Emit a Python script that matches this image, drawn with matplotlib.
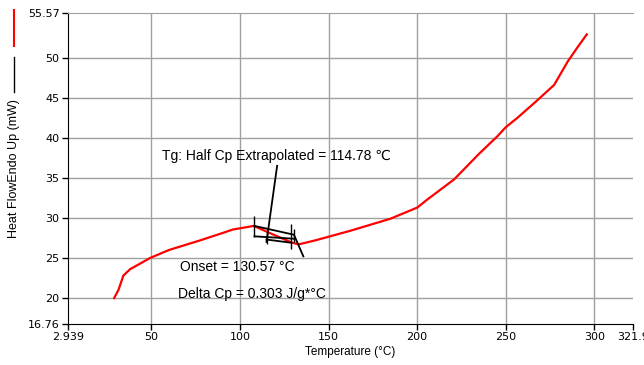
import matplotlib
matplotlib.use("Agg")
import matplotlib.pyplot as plt
from matplotlib.lines import Line2D

plt.rcParams['font.family'] = ['Liberation Sans', 'DejaVu Sans']

# heat flow curve
temp = [29, 31.4, 34.2, 38, 43.7, 49.3, 60, 77.6, 90, 96, 100, 107.8, 118,
        129.5, 133.2, 142.6, 162.4, 185, 200.2, 205.8, 220.9, 235, 245.4,
        250, 256.7, 267, 277.4, 285, 290.6, 295.8]
heat = [20.0, 21.0, 22.8, 23.6, 24.3, 25.0, 26.0, 27.2, 28.1, 28.55, 28.7,
        29.0, 28.0, 26.9, 26.7, 27.2, 28.4, 29.9, 31.3, 32.3, 34.8, 38.0,
        40.2, 41.3, 42.5, 44.5, 46.6, 49.5, 51.3, 52.9]

# Tg analysis construction lines (x pairs, y pairs)
seg_x = [(108.2, 130.5), (108.2, 130.5), (115, 129), (130.5, 135.8), (115, 121)]
seg_y = [(29.0, 27.9), (27.7, 27.4), (27.3, 26.9), (27.9, 25.2), (27.0, 36.5)]
tick_x = [108.2, 115, 129, 130.8]
tick_lo = [27.6, 26.8, 26.1, 27.0]
tick_hi = [30.2, 28.4, 29.2, 28.6]

xticks = [2.939, 50, 100, 150, 200, 250, 300, 321.9]
xlabels = ['2.939', '50', '100', '150', '200', '250', '300', '321.9']
yticks = [16.76, 20, 25, 30, 35, 40, 45, 50, 55.57]
ylabels = ['16.76', '20', '25', '30', '35', '40', '45', '50', '55.57']

fig = plt.figure(figsize=(6.44, 3.65), dpi=100)
ax = fig.add_axes([68 / 644, 1 - 324 / 365, 565 / 644, 311 / 365])

ax.set_xlim(2.939, 321.9)
ax.set_ylim(16.76, 55.57)
ax.set_xticks(xticks)
ax.set_xticklabels(xlabels, fontsize=8, family='DejaVu Sans')
ax.set_yticks(yticks)
ax.set_yticklabels(ylabels, fontsize=8, family='DejaVu Sans')
ax.tick_params(direction='out', length=4, width=1, pad=2)

for v in xticks[1:-1]:
    ax.axvline(v, color='#a0a0a0', lw=1, zorder=0)
for v in yticks[1:-1]:
    ax.axhline(v, color='#a0a0a0', lw=1, zorder=0)

ax.spines['right'].set_visible(False)
ax.spines['top'].set_color('#a0a0a0')

ax.plot(temp, heat, color='red', lw=1.6, zorder=3)
for sx, sy in zip(seg_x, seg_y):
    ax.plot(sx, sy, color='black', lw=1.3, zorder=4)
ax.vlines(tick_x, tick_lo, tick_hi, color='black', lw=1, zorder=4)

ax.text(56, 37.7, 'Tg: Half Cp Extrapolated = 114.78 ℃', fontsize=10, va='center')
ax.text(66.3, 23.9, 'Onset = 130.57 °C', fontsize=10, va='center')
ax.text(65.2, 20.5, 'Delta Cp = 0.303 J/g*°C', fontsize=10, va='center')

ax.set_xlabel('Temperature (°C)', fontsize=8.5, labelpad=3)
fig.text(14 / 644, 1 - 169 / 365, 'Heat FlowEndo Up (mW)', rotation=90,
         fontsize=9, ha='center', va='center')

# legend marks at the left edge
fig.add_artist(Line2D([14 / 644, 14 / 644], [1 - 10 / 365, 1 - 46 / 365],
                      color='red', lw=1.5))
fig.add_artist(Line2D([14 / 644, 14 / 644], [1 - 57 / 365, 1 - 92 / 365],
                      color='black', lw=1))

fig.savefig('out.png', dpi=100)
